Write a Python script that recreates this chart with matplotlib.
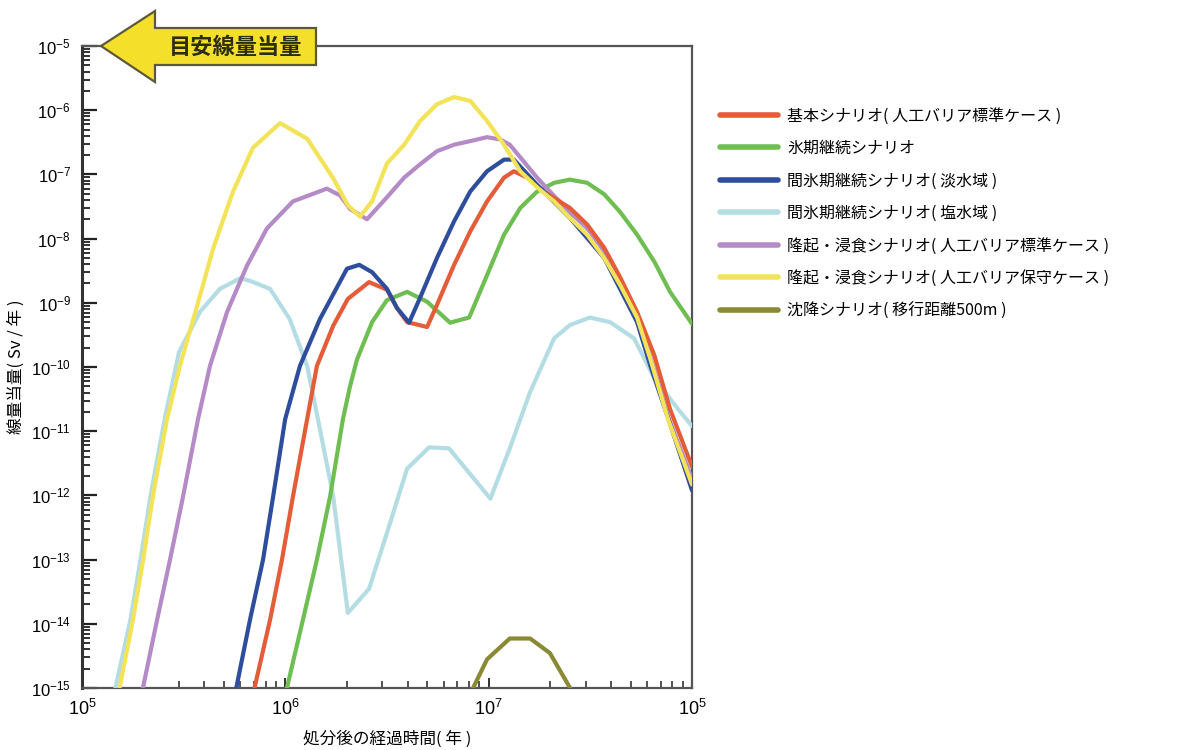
import matplotlib
matplotlib.use("Agg")
import matplotlib.pyplot as plt
from matplotlib.patches import Polygon
from matplotlib.ticker import FixedLocator, LogLocator, NullFormatter

plt.rcParams['font.family'] = ['Liberation Sans', 'Noto Sans CJK JP', 'DejaVu Sans']
plt.rcParams['mathtext.fontset'] = 'custom'
plt.rcParams['mathtext.rm'] = 'Liberation Sans'
plt.rcParams['mathtext.it'] = 'Liberation Sans:italic'
plt.rcParams['mathtext.bf'] = 'Liberation Sans:bold'

JP = ['Noto Sans CJK JP', 'DejaVu Sans']

# ---------------- data (years, Sv/year) ----------------
labels = [
    '基本シナリオ( 人工バリア標準ケース )',
    '氷期継続シナリオ',
    '間氷期継続シナリオ( 淡水域 )',
    '間氷期継続シナリオ( 塩水域 )',
    '隆起・浸食シナリオ( 人工バリア標準ケース )',
    '隆起・浸食シナリオ( 人工バリア保守ケース )',
    '沈降シナリオ( 移行距離500m )',
]
colors = ['#e45c38', '#6fbe52', '#2e4d9c', '#b4dde3', '#b48bc6', '#f3e358', '#8a8a34']

base_t = [7.0e5, 8.41e5, 9.63e5, 1.09e6, 1.28e6, 1.43e6, 1.72e6, 2.03e6, 2.58e6, 3.16e6,
          3.54e6, 3.97e6, 4.98e6, 5.57e6, 6.76e6, 8.11e6, 9.82e6, 1.19e7, 1.33e7, 1.55e7,
          1.87e7, 2.51e7, 3.05e7, 3.70e7, 4.43e7, 5.37e7, 6.52e7, 7.80e7, 1.0e8]
base_v = [9e-16, 1.15e-14, 1.0e-13, 9.6e-13, 1.54e-11, 1.04e-10, 4.4e-10, 1.15e-9, 2.1e-9, 1.6e-9,
          8.3e-10, 5.0e-10, 4.2e-10, 9.3e-10, 3.9e-9, 1.29e-8, 3.8e-8, 8.9e-8, 1.12e-7, 8.9e-8,
          5.4e-8, 3.0e-8, 1.66e-8, 7.2e-9, 2.5e-9, 7.2e-10, 1.54e-10, 2.2e-11, 2.8e-12]

glac_t = [1.01e6, 1.22e6, 1.43e6, 1.66e6, 1.92e6, 2.08e6, 2.25e6, 2.67e6, 3.16e6, 3.97e6,
          4.98e6, 6.46e6, 8.02e6, 9.82e6, 1.19e7, 1.43e7, 1.73e7, 2.10e7, 2.51e7, 3.05e7,
          3.70e7, 4.43e7, 5.37e7, 6.52e7, 7.80e7, 1.0e8]
glac_v = [9e-16, 1.15e-14, 1.0e-13, 9.6e-13, 1.54e-11, 5.0e-11, 1.3e-10, 5.0e-10, 1.1e-9, 1.48e-9,
          1.04e-9, 4.9e-10, 5.9e-10, 2.7e-9, 1.15e-8, 3.0e-8, 5.4e-8, 7.4e-8, 8.3e-8, 7.4e-8,
          4.9e-8, 2.6e-8, 1.15e-8, 4.4e-9, 1.48e-9, 4.7e-10]

fresh_t = [5.7e5, 6.70e5, 7.77e5, 8.71e5, 9.98e5, 1.18e6, 1.48e6, 2.01e6, 2.31e6, 2.67e6,
           3.16e6, 3.54e6, 4.06e6, 4.60e6, 5.57e6, 6.76e6, 8.11e6, 9.82e6, 1.19e7, 1.33e7,
           1.73e7, 2.51e7, 3.70e7, 5.37e7, 6.22e7, 7.80e7, 1.0e8]
fresh_v = [9e-16, 1.15e-14, 1.0e-13, 9.6e-13, 1.54e-11, 1.04e-10, 5.6e-10, 3.4e-9, 3.9e-9, 3.0e-9,
           1.65e-9, 8.3e-10, 4.9e-10, 1.2e-9, 5.0e-9, 1.86e-8, 5.4e-8, 1.12e-7, 1.7e-7, 1.7e-7,
           6.9e-8, 2.1e-8, 5.0e-9, 5.0e-10, 1.08e-10, 1.3e-11, 1.2e-12]

salt_t = [1.45e5, 1.73e5, 1.94e5, 2.17e5, 2.55e5, 3.0e5, 3.80e5, 4.77e5, 5.98e5, 6.70e5,
          8.41e5, 1.05e6, 1.28e6, 1.48e6, 1.72e6, 2.03e6, 2.58e6, 3.16e6, 3.97e6, 5.09e6,
          6.38e6, 1.02e7, 1.27e7, 1.60e7, 2.10e7, 2.51e7, 3.15e7, 3.95e7, 5.19e7, 6.52e7,
          8.45e7, 1.0e8]
salt_v = [9e-16, 1.15e-14, 1.0e-13, 9.6e-13, 1.54e-11, 1.7e-10, 7.2e-10, 1.65e-9, 2.4e-9, 2.2e-9,
          1.65e-9, 5.6e-10, 1.04e-10, 1.07e-11, 9.6e-13, 1.48e-14, 3.5e-14, 2.6e-13, 2.6e-12, 5.6e-12,
          5.4e-12, 8.9e-13, 5.4e-12, 4.1e-11, 2.8e-10, 4.5e-10, 5.9e-10, 5.0e-10, 2.8e-10, 6.7e-11,
          2.3e-11, 1.2e-11]

upl_t = [1.98e5, 2.34e5, 2.71e5, 3.14e5, 3.72e5, 4.26e5, 5.17e5, 6.48e5, 8.13e5, 1.09e6,
         1.60e6, 1.86e6, 2.08e6, 2.52e6, 3.16e6, 3.84e6, 4.60e6, 5.57e6, 6.76e6, 8.11e6,
         9.82e6, 1.14e7, 1.27e7, 1.43e7, 1.73e7, 2.10e7, 2.51e7, 3.05e7, 3.70e7, 4.43e7,
         5.37e7, 6.22e7, 7.62e7, 1.0e8]
upl_v = [9e-16, 1.15e-14, 1.0e-13, 9.6e-13, 1.54e-11, 1.04e-10, 7.2e-10, 3.8e-9, 1.45e-8, 3.8e-8,
         6.0e-8, 4.7e-8, 2.9e-8, 2.0e-8, 4.4e-8, 8.9e-8, 1.44e-7, 2.3e-7, 2.9e-7, 3.3e-7,
         3.8e-7, 3.5e-7, 2.9e-7, 1.85e-7, 8.9e-8, 4.6e-8, 2.6e-8, 1.45e-8, 6.3e-9, 2.3e-9,
         6.8e-10, 1.5e-10, 1.7e-11, 1.8e-12]

cons_t = [1.52e5, 1.78e5, 2.0e5, 2.23e5, 2.62e5, 3.03e5, 3.68e5, 4.41e5, 5.53e5, 6.93e5,
          9.42e5, 1.28e6, 1.72e6, 2.03e6, 2.33e6, 2.67e6, 3.16e6, 3.84e6, 4.60e6, 5.57e6,
          6.76e6, 8.11e6, 9.82e6, 1.19e7, 1.43e7, 1.73e7, 2.10e7, 2.51e7, 3.05e7, 3.70e7,
          4.43e7, 5.37e7, 6.22e7, 7.62e7, 1.0e8]
cons_v = [9e-16, 1.15e-14, 1.0e-13, 9.6e-13, 1.54e-11, 1.04e-10, 8.9e-10, 6.9e-9, 5.4e-8, 2.6e-7,
          6.3e-7, 3.6e-7, 8.7e-8, 3.3e-8, 2.2e-8, 3.8e-8, 1.48e-7, 2.9e-7, 6.8e-7, 1.24e-6,
          1.6e-6, 1.4e-6, 6.8e-7, 2.9e-7, 1.12e-7, 6.3e-8, 3.8e-8, 2.1e-8, 1.15e-8, 5.0e-9,
          1.9e-9, 5.9e-10, 1.38e-10, 1.54e-11, 1.48e-12]

subs_t = [8.1e6, 9.82e6, 1.27e7, 1.60e7, 2.00e7, 2.62e7]
subs_v = [8e-16, 2.8e-15, 5.9e-15, 5.9e-15, 3.5e-15, 8e-16]

series_t = [base_t, glac_t, fresh_t, salt_t, upl_t, cons_t, subs_t]
series_v = [base_v, glac_v, fresh_v, salt_v, upl_v, cons_v, subs_v]
draw_order = [3, 1, 4, 0, 2, 5, 6]

y_ticks = [10.0 ** e for e in range(-15, -4)]
y_ticklabels = ['$10^{%d}$' % e for e in range(-15, -4)]
x_ticks = [1e5, 1e6, 1e7, 1e8]
x_ticklabels = ['$10^{5}$', '$10^{6}$', '$10^{7}$', '$10^{5}$']

xlabel = '処分後の経過時間( 年 )'
ylabel = '線量当量( Sv / 年 )'
banner = '目安線量当量'

# ---------------- figure ----------------
W, H = 1178, 750
fig = plt.figure(figsize=(W / 100, H / 100), dpi=100)
ax = fig.add_axes([82 / W, 1 - 688 / H, 610 / W, 642 / H])

lines = {}
for i in draw_order:
    ln, = ax.plot(series_t[i], series_v[i], color=colors[i], lw=3.0,
                  solid_capstyle='round', solid_joinstyle='round', label=labels[i], zorder=3)
    lines[i] = ln

ax.set_xscale('log')
ax.set_yscale('log')
ax.set_xlim(1e5, 1e8)
ax.set_ylim(1e-15, 1e-5)

ax.yaxis.set_major_locator(FixedLocator(y_ticks))
ax.set_yticklabels(y_ticklabels, fontsize=12)
ax.yaxis.set_minor_locator(LogLocator(base=10, subs=range(2, 10), numticks=30))
ax.yaxis.set_minor_formatter(NullFormatter())
ax.xaxis.set_major_locator(FixedLocator(x_ticks))
ax.set_xticklabels(x_ticklabels, fontsize=13)
ax.xaxis.set_minor_locator(LogLocator(base=10, subs=range(2, 10), numticks=30))
ax.xaxis.set_minor_formatter(NullFormatter())

ax.tick_params(axis='both', which='both', direction='in', top=False, right=False, color='#222222')
ax.tick_params(axis='y', which='major', length=11, width=1.6, pad=8)
ax.tick_params(axis='y', which='minor', length=6, width=1.3)
ax.tick_params(axis='x', which='major', length=7, width=1.3, pad=8)
ax.tick_params(axis='x', which='minor', length=5, width=1.1)

for s in ax.spines.values():
    s.set_color('#555555')
    s.set_linewidth(1.6)
ax.spines['left'].set_color('#333333')
ax.spines['left'].set_linewidth(2.2)

ax.set_xlabel(xlabel, fontsize=12, family=JP, labelpad=8)
ax.set_ylabel(ylabel, fontsize=12, family=JP, labelpad=4)

# legend
handles = [lines[i] for i in range(len(labels))]
leg = ax.legend(handles, labels, loc='upper left', bbox_to_anchor=(706 / W, 1 - 93 / H),
                bbox_transform=fig.transFigure, frameon=False, handlelength=3.6,
                handletextpad=0.6, labelspacing=0.97, prop={'family': JP, 'size': 11.5})
for l in leg.get_lines():
    l.set_linewidth(4)

# banner arrow (figure pixel coordinates)
def fx(px):
    return px / W

def fy(py):
    return 1 - py / H

pts = [(101, 46), (155, 11), (155, 28), (316, 28), (316, 65), (155, 65), (155, 82)]
poly = Polygon([(fx(a), fy(b)) for a, b in pts], closed=True, transform=fig.transFigure,
               facecolor='#f4df2a', edgecolor='#5a5a3a', linewidth=1.6, zorder=10)
fig.add_artist(poly)
fig.text(fx(236), fy(47), banner, ha='center', va='center', fontsize=16, fontweight='bold',
         color='#2d2d10', family=JP, zorder=11)

fig.savefig('out.png', dpi=100)
